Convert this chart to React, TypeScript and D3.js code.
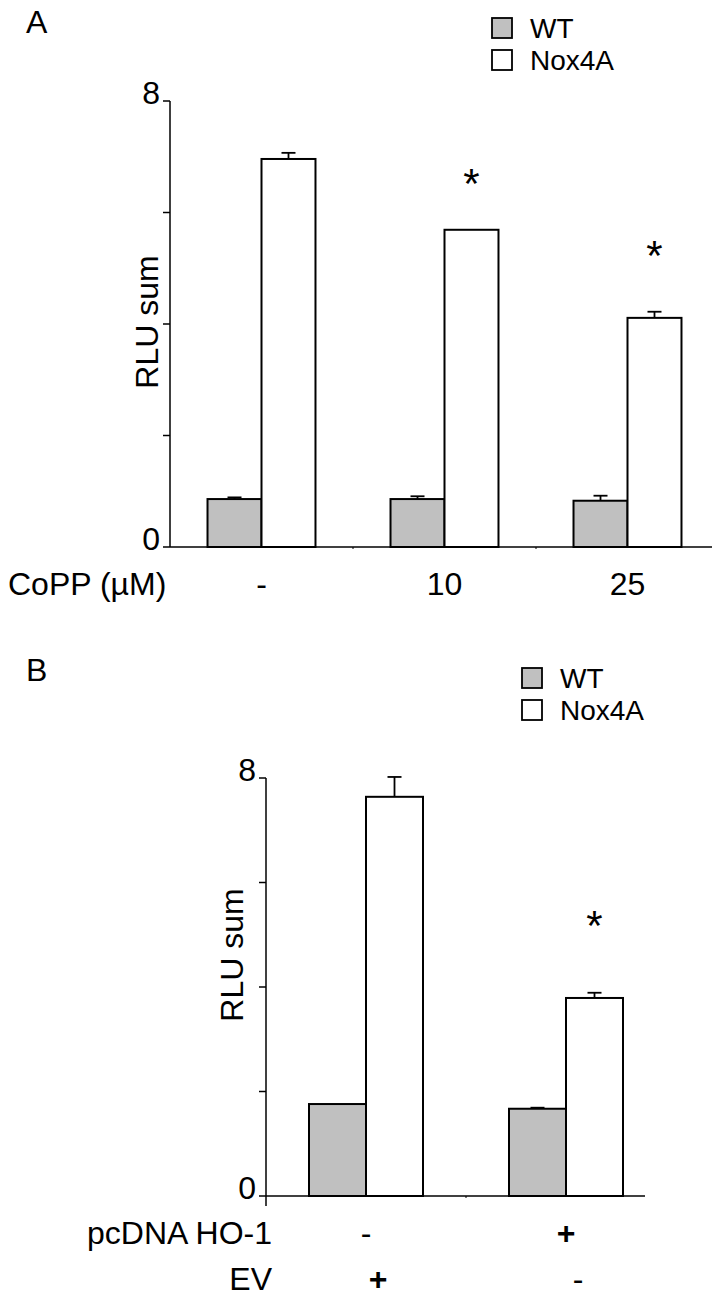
import React from "react";
import * as d3 from "d3";

const seriesNames = ["WT", "Nox4A"];
const seriesFill = ["#c0c0c0", "#ffffff"];

// Panel A
const catsA = ["-", "10", "25"];
const wtA = [0.86, 0.86, 0.83];
const wtErrA = [0.03, 0.05, 0.09];
const noxA = [6.96, 5.69, 4.11];
const noxErrA = [0.11, 0.0, 0.11];
const starA = [null, 6.62, 5.33];

// Panel B
const catsB = ["1", "2"];
const rowLabelsB = ["pcDNA HO-1", "EV"];
const row1B = ["-", "+"];
const row2B = ["+", "-"];
const wtB = [1.76, 1.67];
const wtErrB = [0.0, 0.02];
const noxB = [7.64, 3.79];
const noxErrB = [0.38, 0.1];
const starB = [null, 5.28];

const yTicks = [0, 2, 4, 6, 8];
const yTickLabels = ["0", "", "", "", "8"];

const FONT = "Liberation Sans, Arial, sans-serif";
const FS = 32;
const LEG_FS = 28;

type PanelProps = {
  cats: string[];
  wt: number[];
  wtErr: number[];
  nox: number[];
  noxErr: number[];
  stars: (number | null)[];
  x0: number;
  bandW: number;
  axisEnd: number;
  yTop: number;
  yBottom: number;
  barFrac: number;
  yExtend: number;
};

function Panel(p: PanelProps) {
  const x = d3
    .scaleBand<string>()
    .domain(p.cats)
    .range([p.x0, p.x0 + p.bandW * p.cats.length])
    .padding(0);
  const y = d3.scaleLinear().domain([0, 8]).range([p.yBottom, p.yTop]);
  const bw = x.bandwidth() * p.barFrac;
  const series = [
    { v: p.wt, e: p.wtErr },
    { v: p.nox, e: p.noxErr },
  ];
  return (
    <g>
      {p.cats.map((c, i) => {
        const cx = (x(c) as number) + x.bandwidth() / 2;
        return series.map((s, k) => {
          const left = cx - bw + k * bw;
          const top = y(s.v[i]);
          const capY = y(s.v[i] + s.e[i]);
          return (
            <g key={c + k}>
              {s.e[i] > 0 && (
                <g stroke="#000" strokeWidth={1.8}>
                  <line x1={left + bw / 2} x2={left + bw / 2} y1={top} y2={capY} />
                  <line x1={left + bw / 2 - 7} x2={left + bw / 2 + 7} y1={capY} y2={capY} />
                </g>
              )}
              <rect
                x={left}
                y={top}
                width={bw}
                height={y(0) - top}
                fill={seriesFill[k]}
                stroke="#000"
                strokeWidth={2}
              />
            </g>
          );
        });
      })}
      {p.cats.map((c, i) => {
        const sv = p.stars[i];
        if (sv == null) return null;
        const cx = (x(c) as number) + x.bandwidth() / 2 + bw / 2;
        return (
          <text
            key={"s" + c}
            x={cx}
            y={y(sv) + 20}
            textAnchor="middle"
            fontFamily={FONT}
            fontSize={42}
          >
            *
          </text>
        );
      })}
      <line x1={p.x0} x2={p.axisEnd} y1={y(0)} y2={y(0)} stroke="#000" strokeWidth={1.5} />
      {p.cats.slice(1).map((c) => (
        <line
          key={"xt" + c}
          x1={x(c) as number}
          x2={x(c) as number}
          y1={y(0)}
          y2={y(0) + 2}
          stroke="#000"
          strokeWidth={1}
        />
      ))}
      <line x1={p.x0} x2={p.x0} y1={y(8)} y2={y(0) + p.yExtend} stroke="#000" strokeWidth={1.5} />
      {yTicks.map((t, i) => (
        <g key={"yt" + t}>
          <line x1={p.x0 - 7} x2={p.x0} y1={y(t)} y2={y(t)} stroke="#000" strokeWidth={1.5} />
          {yTickLabels[i] && (
            <text
              x={p.x0 - 10}
              y={y(t)}
              dy="0.1em"
              textAnchor="end"
              fontFamily={FONT}
              fontSize={FS}
            >
              {yTickLabels[i]}
            </text>
          )}
        </g>
      ))}
    </g>
  );
}

function Legend({ x, y }: { x: number; y: number }) {
  return (
    <g>
      {seriesNames.map((n, i) => (
        <g key={n}>
          <rect
            x={x}
            y={y + i * 32}
            width={20}
            height={20}
            fill={seriesFill[i]}
            stroke="#000"
            strokeWidth={1.8}
          />
          <text x={x + 38} y={y + i * 32 + 20} fontFamily={FONT} fontSize={LEG_FS}>
            {n}
          </text>
        </g>
      ))}
    </g>
  );
}

export default function App() {
  const bandA = 183;
  const bandB = 200;
  const xA = d3.scaleBand<string>().domain(catsA).range([170, 170 + bandA * 3]);
  const xB = d3.scaleBand<string>().domain(catsB).range([266, 266 + bandB * 2]);
  return (
    <svg
      width={726}
      height={1297}
      style={{ position: "absolute", left: 0, top: 0, background: "#fff" }}
    >
      <rect width={726} height={1297} fill="#fff" />
      {/* Panel A */}
      <text x={26} y={33} fontFamily={FONT} fontSize={FS}>A</text>
      <Legend x={492} y={18} />
      <Panel
        cats={catsA}
        wt={wtA}
        wtErr={wtErrA}
        nox={noxA}
        noxErr={noxErrA}
        stars={starA}
        x0={170}
        bandW={bandA}
        axisEnd={712}
        yTop={101}
        yBottom={547}
        barFrac={0.295}
        yExtend={0}
      />
      <text
        transform="translate(158,322) rotate(-90)"
        textAnchor="middle"
        fontFamily={FONT}
        fontSize={FS}
      >
        RLU sum
      </text>
      <text x={8} y={595} fontFamily={FONT} fontSize={FS}>CoPP (µM)</text>
      {catsA.map((c) => (
        <text
          key={"la" + c}
          x={(xA(c) as number) + xA.bandwidth() / 2}
          y={595}
          textAnchor="middle"
          fontFamily={FONT}
          fontSize={FS}
        >
          {c}
        </text>
      ))}

      {/* Panel B */}
      <text x={26} y={681} fontFamily={FONT} fontSize={FS}>B</text>
      <Legend x={522} y={668} />
      <Panel
        cats={catsB}
        wt={wtB}
        wtErr={wtErrB}
        nox={noxB}
        noxErr={noxErrB}
        stars={starB}
        x0={266}
        bandW={bandB}
        axisEnd={645}
        yTop={778}
        yBottom={1196}
        barFrac={0.285}
        yExtend={10}
      />
      <text
        transform="translate(243,955) rotate(-90)"
        textAnchor="middle"
        fontFamily={FONT}
        fontSize={FS}
      >
        RLU sum
      </text>
      {rowLabelsB.map((r, ri) => (
        <g key={r}>
          <text
            x={272}
            y={1244 + ri * 46}
            textAnchor="end"
            fontFamily={FONT}
            fontSize={FS}
          >
            {r}
          </text>
          {(ri === 0 ? row1B : row2B).map((s, i) => (
            <text
              key={r + i}
              x={(xB(catsB[i]) as number) + xB.bandwidth() / 2 + (ri === 0 ? 0 : 12)}
              y={1244 + ri * 46}
              textAnchor="middle"
              fontFamily={FONT}
              fontSize={FS}
              fontWeight={s === "+" ? "bold" : "normal"}
            >
              {s}
            </text>
          ))}
        </g>
      ))}
    </svg>
  );
}
